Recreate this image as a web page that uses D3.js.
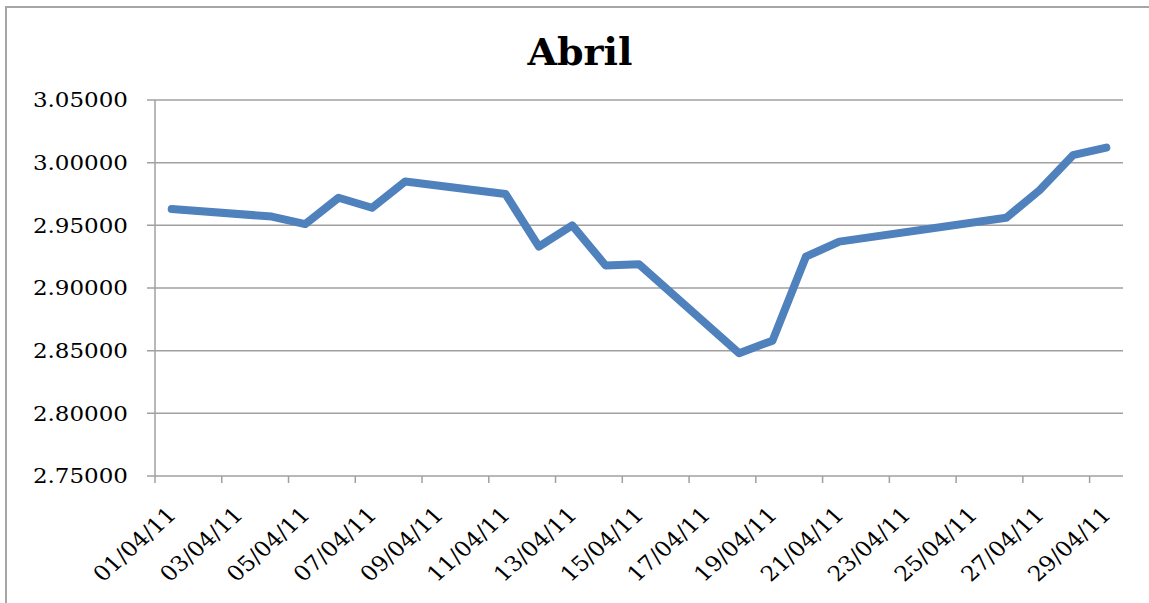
<!DOCTYPE html>
<html>
<head>
<meta charset="utf-8">
<script src="https://cdn.jsdelivr.net/npm/d3@7"></script>
<style>
  body { margin: 0; background: #fff; }
  text { font-family: "DejaVu Serif", serif; fill: #000; }
</style>
</head>
<body>
<div id="chart"></div>
<script>
// trading days of April 2011 and their values
var dates = ["01/04/11", "04/04/11", "05/04/11", "06/04/11", "07/04/11", "08/04/11",
             "11/04/11", "12/04/11", "13/04/11", "14/04/11", "15/04/11",
             "18/04/11", "19/04/11", "20/04/11", "21/04/11",
             "26/04/11", "27/04/11", "28/04/11", "29/04/11"];
var values = [2.963, 2.957, 2.951, 2.972, 2.964, 2.985,
              2.975, 2.933, 2.950, 2.918, 2.919,
              2.848, 2.858, 2.925, 2.937,
              2.956, 2.978, 3.006, 3.012];
var yTicks = [2.75, 2.80, 2.85, 2.90, 2.95, 3.00, 3.05];
var xTickLabels = ["01/04/11", "03/04/11", "05/04/11", "07/04/11", "09/04/11", "11/04/11",
                   "13/04/11", "15/04/11", "17/04/11", "19/04/11", "21/04/11", "23/04/11",
                   "25/04/11", "27/04/11", "29/04/11"];

var width = 1149, height = 603;
var margin = {top: 100, right: 26, bottom: 127, left: 155};

var parse = d3.timeParse("%d/%m/%y");
var noon = function(s) { return d3.timeHour.offset(parse(s), 12); };

var svg = d3.select("#chart").append("svg")
    .attr("width", width)
    .attr("height", height);

// chart frame
svg.append("path")
    .attr("d", "M6,603V7H1149")
    .attr("fill", "none")
    .attr("stroke", "#a6a6a6")
    .attr("stroke-width", 2);

var x = d3.scaleTime()
    .domain([parse("01/04/11"), parse("30/04/11")])
    .range([margin.left, width - margin.right]);

var y = d3.scaleLinear()
    .domain([2.75, 3.05])
    .range([height - margin.bottom, margin.top]);

// gridlines
svg.append("g")
    .selectAll("line")
    .data(yTicks)
    .enter().append("line")
    .attr("x1", margin.left - 8)
    .attr("x2", width - margin.right)
    .attr("y1", function(d) { return y(d); })
    .attr("y2", function(d) { return y(d); })
    .attr("stroke", "#a0a0a0")
    .attr("stroke-width", 1.5);

// y axis line
svg.append("line")
    .attr("x1", margin.left).attr("x2", margin.left)
    .attr("y1", margin.top).attr("y2", height - margin.bottom)
    .attr("stroke", "#a0a0a0")
    .attr("stroke-width", 1.5);

// the original picture is a bit stretched sideways, hence the scale(1.15,1)
svg.append("g")
    .selectAll("text")
    .data(yTicks)
    .enter().append("text")
    .attr("transform", function(d) { return "translate(128," + y(d) + ") scale(1.15,1)"; })
    .attr("dy", "0.36em")
    .attr("text-anchor", "end")
    .style("font-size", "20px")
    .text(function(d) { return d3.format(".5f")(d); });

// x axis ticks
svg.append("g")
    .selectAll("line")
    .data(xTickLabels)
    .enter().append("line")
    .attr("x1", function(d) { return x(parse(d)); })
    .attr("x2", function(d) { return x(parse(d)); })
    .attr("y1", height - margin.bottom)
    .attr("y2", height - margin.bottom + 7)
    .attr("stroke", "#a0a0a0")
    .attr("stroke-width", 1.5);

svg.append("g")
    .selectAll("text")
    .data(xTickLabels)
    .enter().append("text")
    .attr("text-anchor", "end")
    .attr("transform", function(d) {
      return "translate(" + (x(noon(d)) + 6) + "," + (height - margin.bottom + 40) + ") scale(1.12,1) rotate(-45)";
    })
    .style("font-size", "21px")
    .text(function(d) { return d; });

// series
var line = d3.line()
    .x(function(d, i) { return x(noon(dates[i])); })
    .y(function(d) { return y(d); });

svg.append("path")
    .datum(values)
    .attr("d", line)
    .attr("fill", "none")
    .attr("stroke", "#4f81bd")
    .attr("stroke-width", 8)
    .attr("stroke-linejoin", "round")
    .attr("stroke-linecap", "round");

svg.append("text")
    .attr("x", 580)
    .attr("y", 65)
    .attr("text-anchor", "middle")
    .style("font-size", "38px")
    .style("font-weight", "bold")
    .text("Abril");
</script>
</body>
</html>
